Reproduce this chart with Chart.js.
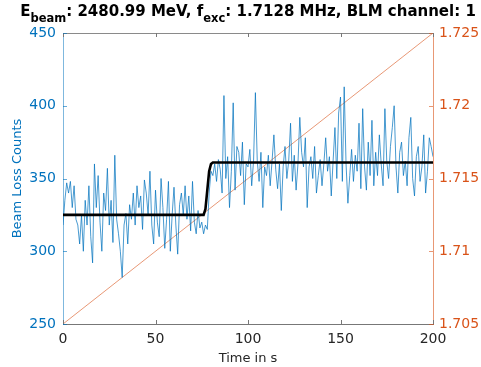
<!DOCTYPE html>
<html>
<head>
<meta charset="utf-8">
<script src="https://cdn.jsdelivr.net/npm/chart.js@4/dist/chart.umd.min.js"></script>
<style>
  html, body { margin: 0; padding: 0; background: #fff; }
  #wrap { position: relative; width: 481px; height: 367px; }
  #title { position: absolute; top: 2px; left: 248px; transform: translateX(-50%);
           white-space: nowrap; font: bold 15px "DejaVu Sans", sans-serif; color: #000; line-height: 18px; }
  #title sub { font-size: 11.5px; vertical-align: -6px; line-height: 0; }
</style>
</head>
<body>
<div id="wrap">
  <canvas id="c" width="481" height="367"></canvas>
  <div id="title">E<sub>beam</sub>: 2480.99 MeV, f<sub>exc</sub>: 1.7128 MHz, BLM channel: 1</div>
</div>
<script>
// ---- data ----
const counts = [
  318,335,347,340,348,330,345,322,318,305,
  325,300,335,318,345,310,292,360,330,352,
  320,300,340,328,357,318,335,306,366,322,
  312,300,282,318,326,305,332,322,340,318,
  345,330,338,315,349,340,325,355,318,305,
  342,320,310,350,330,302,322,348,300,325,
  344,318,298,332,340,325,345,322,338,314,
  348,320,312,328,316,320,312,318,315,340,
  355,352,360,348,363,356,340,407,350,365,
  330,355,402,342,372,368,352,375,332,360,
  358,370,345,362,409,362,348,368,330,358,
  352,366,345,362,380,356,343,360,328,358,
  372,350,362,388,348,366,342,360,392,368,
  358,378,330,358,365,350,372,340,352,363,
  345,360,378,355,365,338,362,385,350,395,
  406,348,413,360,333,352,370,348,366,355,
  388,343,398,358,342,375,352,390,345,368,
  352,380,360,345,398,362,350,372,385,400,
  358,340,368,375,352,362,345,378,392,350,
  338,365,372,348,358,380,340,355,378,372,
  365
];
const countTimes = counts.map((_, i) => i);          // one sample per second
const fitTimes  = [0, 76, 77, 78, 79, 80, 81, 200];
const fitCounts = [325, 325, 329, 342, 355, 360, 361, 361];
const freqTimes = [0, 200];
const freqMHz   = [1.705, 1.725];
const xTicks    = [0, 50, 100, 150, 200];
const yTicks    = [250, 300, 350, 400, 450];
const y1Ticks   = [1.705, 1.71, 1.715, 1.72, 1.725];

const BLUE = '#0072BD', ORANGE = '#D95319', AXIS = '#262626';
const FONT = '"DejaVu Sans", sans-serif';

const toXY = (xs, ys) => xs.map((x, i) => ({ x, y: ys[i] }));

const inwardTicks = {
  id: 'inwardTicks',
  afterDraw(chart) {
    const { ctx, chartArea: a, scales } = chart;
    const L = 4;
    ctx.save();
    ctx.lineWidth = 1;
    ctx.strokeStyle = '#8a8a8a';
    ctx.beginPath(); ctx.moveTo(a.left, a.top + 0.5); ctx.lineTo(a.right, a.top + 0.5); ctx.stroke();
    ctx.strokeStyle = '#777';
    xTicks.forEach(v => {
      const px = Math.round(scales.x.getPixelForValue(v)) + 0.5;
      ctx.beginPath(); ctx.moveTo(px, a.bottom); ctx.lineTo(px, a.bottom - L); ctx.stroke();
      ctx.beginPath(); ctx.moveTo(px, a.top); ctx.lineTo(px, a.top + L); ctx.stroke();
    });
    ctx.strokeStyle = 'rgba(0,114,189,0.6)';
    yTicks.forEach(v => {
      const py = Math.round(scales.y.getPixelForValue(v)) + 0.5;
      ctx.beginPath(); ctx.moveTo(a.left, py); ctx.lineTo(a.left + L, py); ctx.stroke();
    });
    ctx.strokeStyle = 'rgba(217,83,25,0.6)';
    y1Ticks.forEach(v => {
      const py = Math.round(scales.y1.getPixelForValue(v)) + 0.5;
      ctx.beginPath(); ctx.moveTo(a.right, py); ctx.lineTo(a.right - L, py); ctx.stroke();
    });
    ctx.restore();
  }
};

new Chart(document.getElementById('c'), {
  type: 'line',
  data: {
    datasets: [
      { data: toXY(fitTimes, fitCounts), yAxisID: 'y', borderColor: '#000', borderWidth: 2.6,
        pointRadius: 0, tension: 0, order: 0 },
      { data: toXY(countTimes, counts), yAxisID: 'y', borderColor: 'rgba(0,114,189,0.8)', borderWidth: 0.9,
        pointRadius: 0, tension: 0, order: 1 },
      { data: toXY(freqTimes, freqMHz), yAxisID: 'y1', borderColor: 'rgba(217,83,25,0.75)', borderWidth: 0.8,
        pointRadius: 0, tension: 0, order: 2 }
    ]
  },
  options: {
    responsive: false,
    animation: false,
    layout: { padding: { top: 33, left: 0, right: 0, bottom: 0 } },
    plugins: { legend: { display: false }, tooltip: { enabled: false }, title: { display: false } },
    scales: {
      x: {
        type: 'linear', min: 0, max: 200,
        afterBuildTicks: s => { s.ticks = xTicks.map(v => ({ value: v })); },
        afterFit: s => { s.height = 43; },
        grid: { display: true, drawOnChartArea: false, drawTicks: false },
        border: { display: true, color: '#777', width: 1 },
        ticks: { color: AXIS, font: { family: FONT, size: 14 }, padding: 7, autoSkip: false, maxRotation: 0 },
        title: { display: true, text: 'Time in s', color: AXIS, font: { family: FONT, size: 13 }, padding: { top: 0, bottom: 1 } }
      },
      y: {
        type: 'linear', position: 'left', min: 250, max: 450,
        afterBuildTicks: s => { s.ticks = yTicks.map(v => ({ value: v })); },
        afterFit: s => { s.width = 63; },
        grid: { display: true, drawOnChartArea: false, drawTicks: false },
        border: { display: true, color: 'rgba(0,114,189,0.5)', width: 1 },
        ticks: { color: BLUE, font: { family: FONT, size: 14 }, padding: 7 },
        title: { display: true, text: 'Beam Loss Counts', color: BLUE, font: { family: FONT, size: 13 }, padding: { top: 10, bottom: 0 } }
      },
      y1: {
        type: 'linear', position: 'right', min: 1.705, max: 1.725,
        afterBuildTicks: s => { s.ticks = y1Ticks.map(v => ({ value: v })); },
        afterFit: s => { s.width = 48; },
        grid: { display: true, drawOnChartArea: false, drawTicks: false },
        border: { display: true, color: 'rgba(217,83,25,0.6)', width: 1 },
        ticks: { color: ORANGE, font: { family: FONT, size: 14 }, padding: 6,
                 callback: v => String(Number(v.toFixed(3))) }
      }
    }
  },
  plugins: [inwardTicks]
});
</script>
</body>
</html>
